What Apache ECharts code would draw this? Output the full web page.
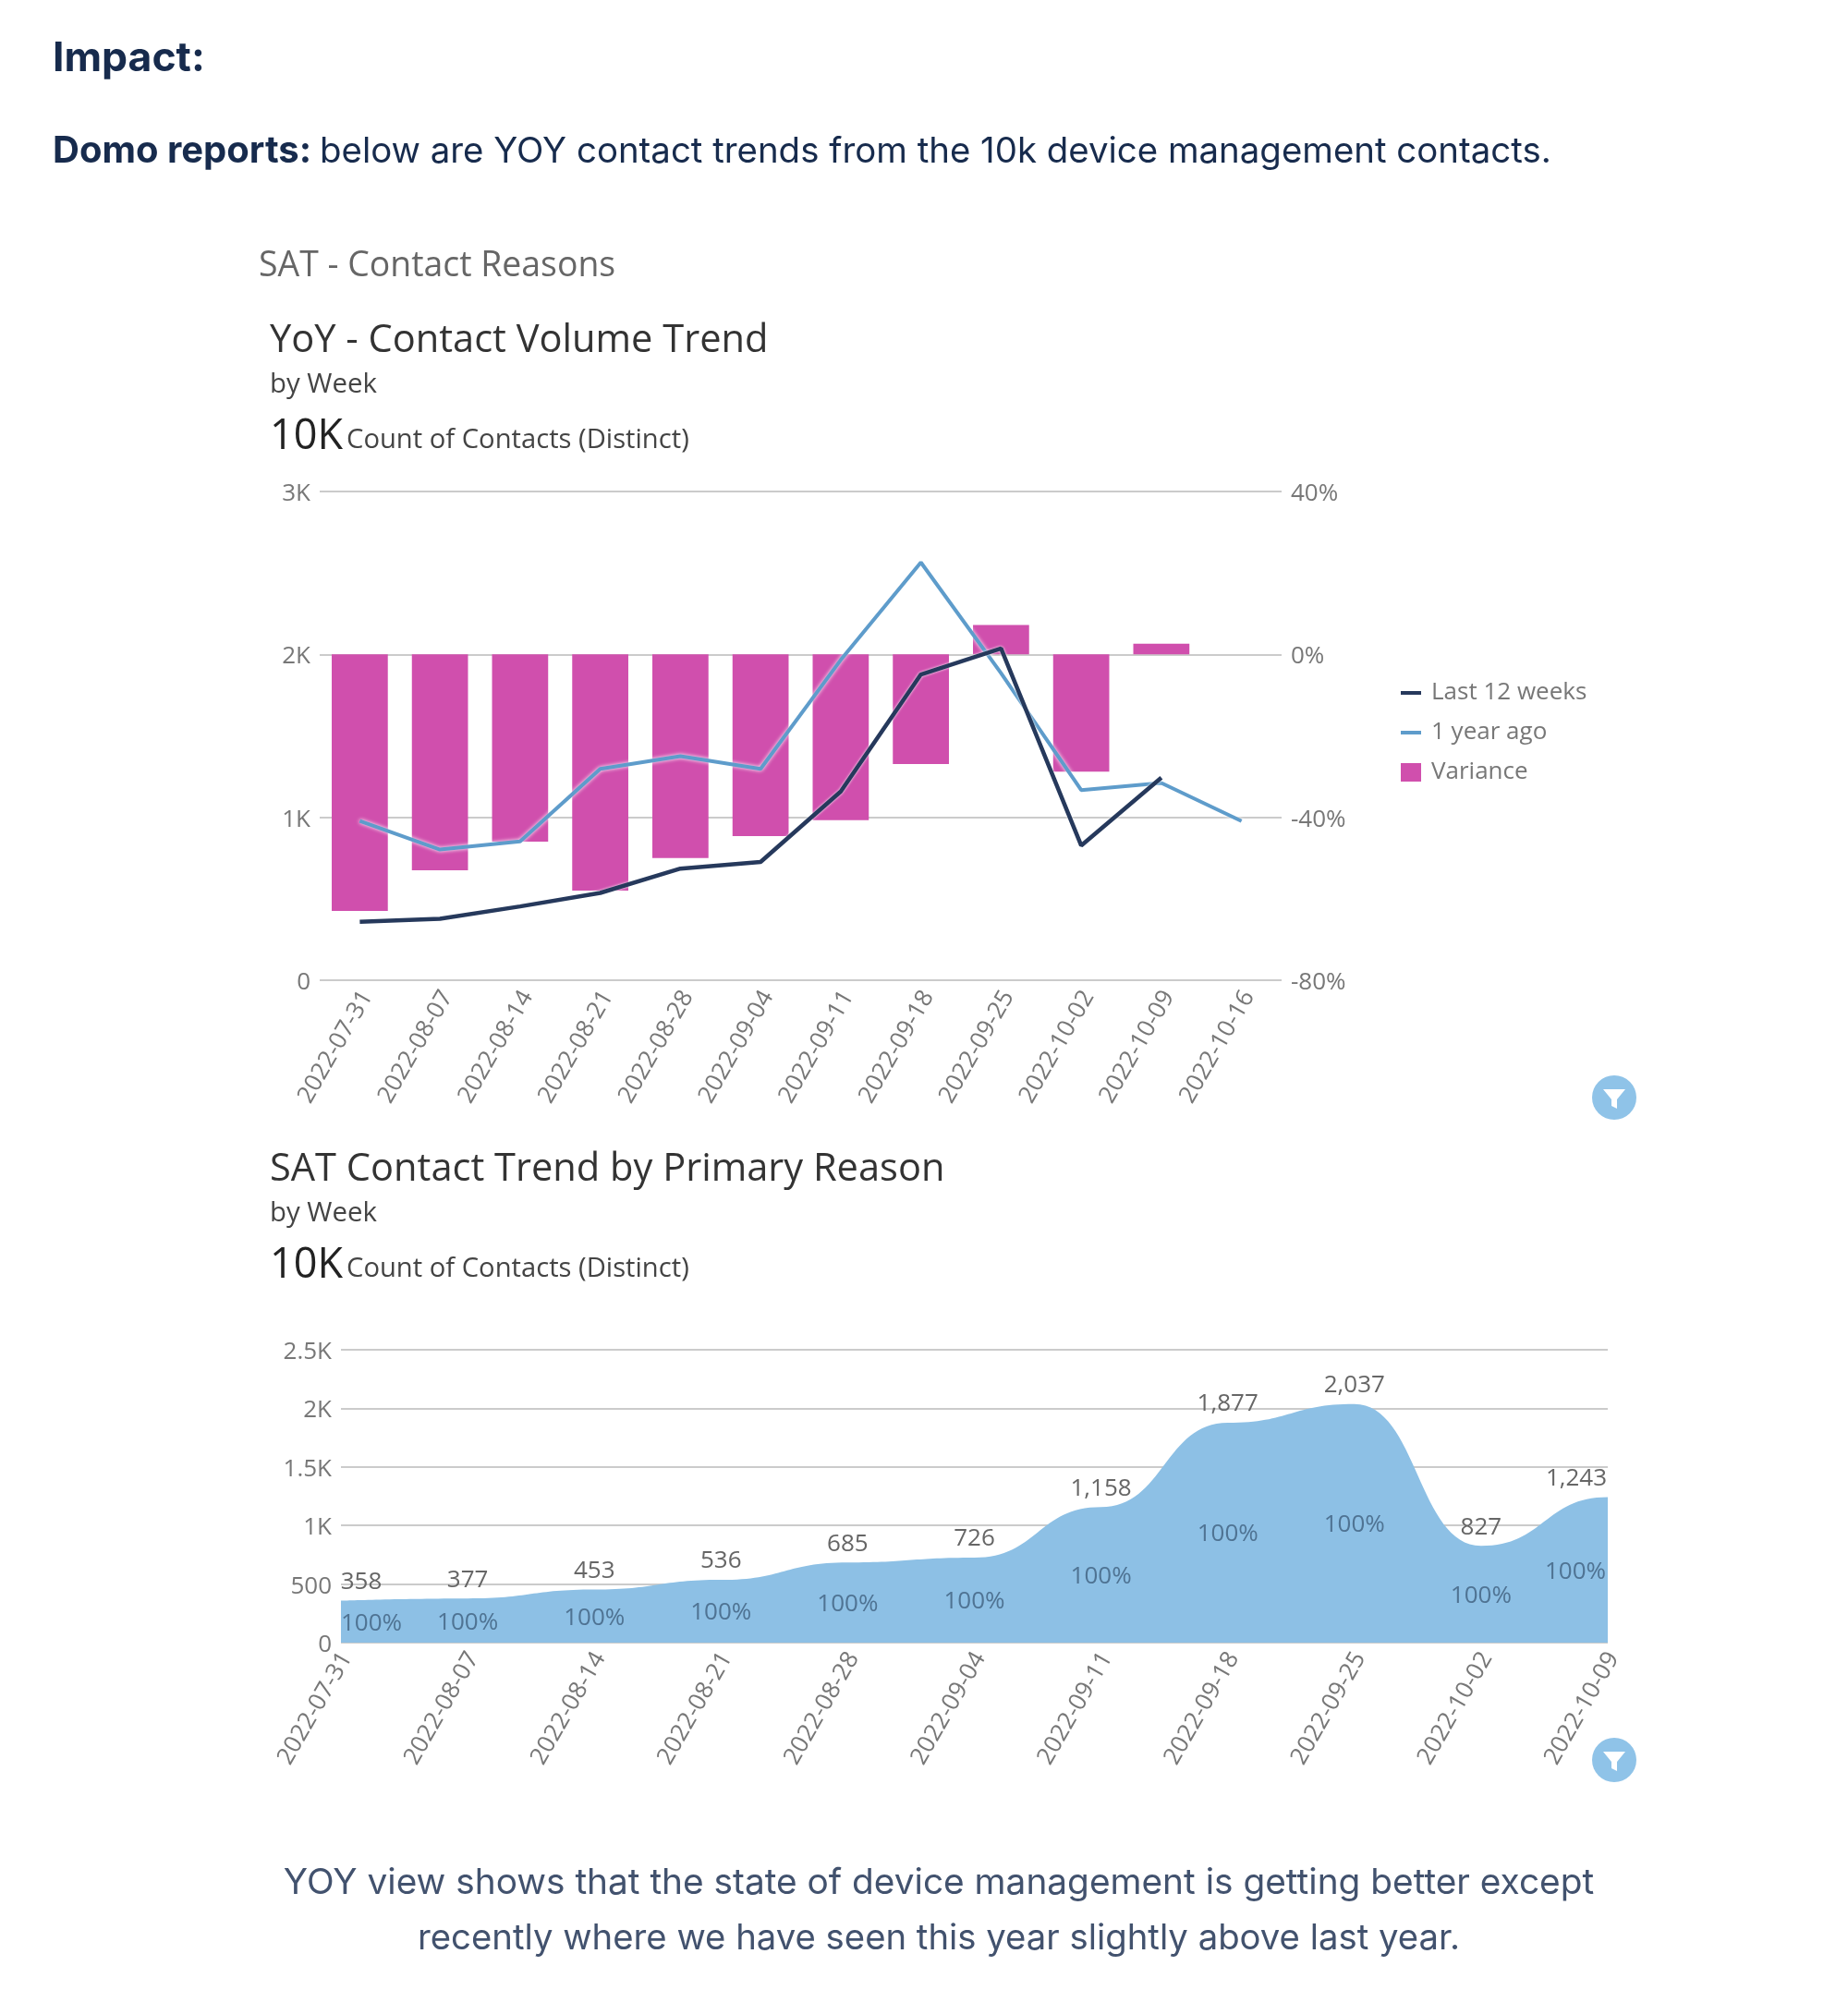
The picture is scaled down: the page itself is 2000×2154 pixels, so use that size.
<!DOCTYPE html>
<html><head><meta charset="utf-8">
<style>html,body{margin:0;padding:0;background:#fff}#c{width:2000px;height:2154px}</style>
<script src="https://cdn.jsdelivr.net/npm/echarts@6/dist/echarts.min.js"></script></head>
<body><div id="c"></div>
<script>
const weeksYoY = ['2022-07-31','2022-08-07','2022-08-14','2022-08-21','2022-08-28','2022-09-04','2022-09-11','2022-09-18','2022-09-25','2022-10-02','2022-10-09','2022-10-16'];
const last12Weeks = [358,377,453,536,685,726,1158,1877,2037,827,1243,null];
const oneYearAgo = [977,802,852,1297,1375,1297,1966,2565,1885,1167,1211,977];
const variancePct = [-63,-53,-46,-58,-50,-44.6,-40.7,-26.9,7.2,-28.8,2.6,null];
const weeksReason = ['2022-07-31','2022-08-07','2022-08-14','2022-08-21','2022-08-28','2022-09-04','2022-09-11','2022-09-18','2022-09-25','2022-10-02','2022-10-09'];
const contactsByWeek = [358,377,453,536,685,726,1158,1877,2037,827,1243];
const shareLabels = ['100%','100%','100%','100%','100%','100%','100%','100%','100%','100%','100%'];

const F='"Open Sans"', H='Inter';
const kFmt=v=>v>=1000?(v/1000)+'K':String(v);
const txt=(x,y,text,size,fill,font,extra)=>({type:'text',x,y,silent:true,style:Object.assign({text,fontSize:size,fill,fontFamily:font||F,verticalAlign:'middle'},extra||{})});
const funnel=(cx,cy)=>[
 {type:'circle',shape:{cx,cy,r:24},style:{fill:'#8fc3e8'},silent:true},
 {type:'polygon',shape:{points:[[cx-12,cy-9],[cx+12,cy-9],[cx+3,cy+2],[cx+3,cy+12],[cx-3,cy+9],[cx-3,cy+2]]},style:{fill:'#fff'},silent:true}
];
const axisLab={color:'#777',fontFamily:F,fontSize:26};
const split={show:true,lineStyle:{color:'#cbcbcb',width:2}};
const rot={rotate:60,interval:0,margin:9,verticalAlign:'top',lineHeight:18};
const hiddenMark={color:'transparent',borderColor:'transparent'};
const lastIdx=contactsByWeek.length-1;
const yLabShift={margin:10,verticalAlign:'top',lineHeight:5};

const chart=echarts.init(document.getElementById('c'));
chart.setOption({
 animation:false,backgroundColor:'#fff',
 grid:[
  {left:346,width:1041,top:532,height:529},
  {left:369,width:1371,top:1461,height:317}
 ],
 legend:{orient:'vertical',left:1509,top:732,itemWidth:22,itemHeight:20,itemGap:17,
  data:[{name:'Last 12 weeks',itemStyle:hiddenMark,lineStyle:{width:4}},{name:'1 year ago',itemStyle:hiddenMark,lineStyle:{width:4}},{name:'Variance',icon:'rect'}],
  textStyle:{color:'#777',fontFamily:F,fontSize:26,lineHeight:20,padding:[0,0,0,6]}},
 xAxis:[
  {type:'category',gridIndex:0,data:weeksYoY,axisLine:{show:false},axisTick:{show:false},
   axisLabel:Object.assign({},axisLab,rot)},
  {type:'category',gridIndex:1,data:weeksReason,boundaryGap:false,max:lastIdx,axisLine:{show:false},axisTick:{show:false},
   axisLabel:Object.assign({},axisLab,rot,{lineHeight:14})}
 ],
 yAxis:[
  {type:'value',gridIndex:0,min:0,max:3000,interval:1000,axisLine:{show:false},axisTick:{show:false},
   splitLine:split,axisLabel:Object.assign({},axisLab,{formatter:kFmt},yLabShift)},
  {type:'value',gridIndex:0,min:-80,max:40,interval:40,position:'right',axisLine:{show:false},axisTick:{show:false},
   splitLine:{show:false},axisLabel:Object.assign({},axisLab,{formatter:'{value}%'},yLabShift)},
  {type:'value',gridIndex:1,min:0,max:2500,interval:500,axisLine:{show:false},axisTick:{show:false},
   splitLine:split,axisLabel:Object.assign({},axisLab,{formatter:kFmt},yLabShift)}
 ],
 series:[
  {name:'Variance',type:'bar',xAxisIndex:0,yAxisIndex:1,data:variancePct,barWidth:'70%',z:2,
   itemStyle:{color:'#d04fad'}},
  {name:'1 year ago',type:'line',xAxisIndex:0,yAxisIndex:0,data:oneYearAgo,symbol:'none',z:3,
   lineStyle:{color:'#5e9ccb',width:4,shadowColor:'#fff',shadowBlur:4},itemStyle:{color:'#5e9ccb'}},
  {name:'Last 12 weeks',type:'line',xAxisIndex:0,yAxisIndex:0,data:last12Weeks,symbol:'none',z:4,
   lineStyle:{color:'#26395c',width:4.5,shadowColor:'#fff',shadowBlur:3},itemStyle:{color:'#26395c'}},
  {name:'Contacts',type:'line',xAxisIndex:1,yAxisIndex:2,z:3,symbol:'circle',symbolSize:1,showSymbol:true,smooth:0.5,smoothMonotone:'x',
   lineStyle:{width:0,color:'#8dc0e5'},areaStyle:{color:'#8dc0e5',opacity:1},itemStyle:hiddenMark,
   // The extra trailing point repeats the last value past the axis end, so the clipped curve levels off at the last week.
   data:contactsByWeek.map((v,i)=>({value:v,
     label:{show:true,position:'top',distance:6,color:'#666',fontFamily:F,fontSize:26,
       formatter:echarts.format.addCommas(v),
       offset:i===0?[22,0]:i===lastIdx?[-34,0]:[0,0]}})).concat([{value:contactsByWeek[lastIdx],label:{show:false}}]),
   markPoint:{symbol:'circle',symbolSize:1,itemStyle:hiddenMark,silent:true,
     data:contactsByWeek.map((v,i)=>({coord:[i,v/2],
       label:{show:true,position:'inside',formatter:shareLabels[i],color:'#4f7393',fontFamily:F,fontSize:26,
         offset:i===0?[33,2]:i===lastIdx?[-35,2]:[0,2]}}))}}
 ],
 graphic:{elements:[
  txt(57,64,'Impact:',44.5,'#172b4d',H,{fontWeight:700}),
  txt(57,164,'Domo reports:',40,'#172b4d',H,{fontWeight:700}),
  txt(346,164,'below are YOY contact trends from the 10k device management contacts.',38.4,'#172b4d',H),
  txt(280,288,'SAT - Contact Reasons',37.4,'#666'),
  txt(292,369,'YoY - Contact Volume Trend',41.6,'#333'),
  txt(292,417,'by Week',29.4,'#444'),
  txt(292,473,'10K',45,'#222'),
  txt(375,477,'Count of Contacts (Distinct)',29.2,'#444'),
  txt(292,1266,'SAT Contact Trend by Primary Reason',41.6,'#333'),
  txt(292,1314,'by Week',29.4,'#444'),
  txt(292,1370,'10K',45,'#222'),
  txt(375,1374,'Count of Contacts (Distinct)',29.2,'#444'),
  txt(1016,2038,'YOY view shows that the state of device management is getting better except',38.8,'#42526e',H,{align:'center'}),
  txt(1016,2098,'recently where we have seen this year slightly above last year.',38.3,'#42526e',H,{align:'center'}),
  ...funnel(1747,1188),...funnel(1747,1905)
 ]}
});
</script></body></html>
